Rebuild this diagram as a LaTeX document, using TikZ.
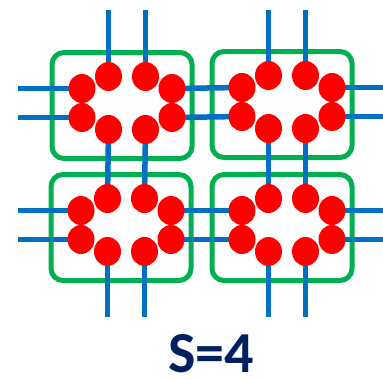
\documentclass[tikz,border=0pt]{standalone}
\usepackage{fontspec}
\setsansfont{Carlito}
\usetikzlibrary{shapes.geometric}
\definecolor{cellStroke}{RGB}{0,176,80}
\definecolor{wireBlue}{RGB}{0,112,192}
\definecolor{spotRed}{RGB}{255,0,0}
\definecolor{labelNavy}{RGB}{0,32,96}
\pgfdeclarelayer{back}
\pgfsetlayers{back,main}
\tikzset{
  cell/.style={
    rectangle,
    rounded corners=12pt,
    draw=cellStroke,
    line width=5pt,
    minimum width=140pt,
    minimum height=106pt,
    inner sep=0pt
  },
  spot/.style={
    ellipse,
    fill=spotRed,
    minimum width=27pt,
    minimum height=29pt,
    inner sep=0pt
  },
  wire/.style={draw=wireBlue, line width=5.5pt},
  sizetext/.style={font=\sffamily\bfseries\fontsize{58}{60}\selectfont, text=labelNavy, inner sep=0pt}
}

\begin{document}
\begin{tikzpicture}[x=1pt,y=-1pt]
  \useasboundingbox (0,0) rectangle (383,380);

  \coordinate (topend) at (0,10);
  \coordinate (botend) at (0,317);
  \coordinate (leftend) at (18,0);
  \coordinate (rightend) at (383,0);

  % red spots of each cell
  \foreach \c/\cx/\cy in {tl/127/103,tr/287/102,bl/126/225,br/287/225}{
    \node[spot] (\c-l1) at (\cx-45,\cy-14.5) {};
    \node[spot] (\c-l2) at (\cx-45,\cy+14.5) {};
    \node[spot] (\c-t1) at (\cx-18.5,\cy-26.5) {};
    \node[spot] (\c-t2) at (\cx+18.5,\cy-26.5) {};
    \node[spot] (\c-r1) at (\cx+45,\cy-14.5) {};
    \node[spot] (\c-r2) at (\cx+45,\cy+14.5) {};
    \node[spot] (\c-b1) at (\cx-18.5,\cy+26.5) {};
    \node[spot] (\c-b2) at (\cx+18.5,\cy+26.5) {};
  }

  \begin{pgfonlayer}{back}
    % green cells
    \foreach \c/\cx/\cy in {tl/127/103,tr/287/102,bl/126/225,br/287/225}{
      \node[cell] (\c) at (\cx-5,\cy+2.5) {};
    }

    % blue wires, vertical
    \foreach \c/\d in {tl/bl,tr/br}{
      \draw[wire] (\c-t1 |- topend) -- (\c-t1.center);
      \draw[wire] (\c-t2 |- topend) -- (\c-t2.center);
      \draw[wire] (\c-b1.center) -- (\d-t1.center);
      \draw[wire] (\c-b2.center) -- (\d-t2.center);
      \draw[wire] (\d-b1.center) -- (\d-b1 |- botend);
      \draw[wire] (\d-b2.center) -- (\d-b2 |- botend);
    }

    % blue wires, horizontal
    \foreach \c/\d in {tl/tr,bl/br}{
      \draw[wire] (leftend |- \c-l1) -- (\c-l1.center);
      \draw[wire] (leftend |- \c-l2) -- (\c-l2.center);
      \draw[wire] (\c-r1.center) -- (\d-l1.center);
      \draw[wire] (\c-r2.center) -- (\d-l2.center);
      \draw[wire] (\d-r1.center) -- (rightend |- \d-r1);
      \draw[wire] (\d-r2.center) -- (rightend |- \d-r2);
    }
  \end{pgfonlayer}

  \node[sizetext] (size) at (211,354) {S=4};
\end{tikzpicture}
\end{document}
